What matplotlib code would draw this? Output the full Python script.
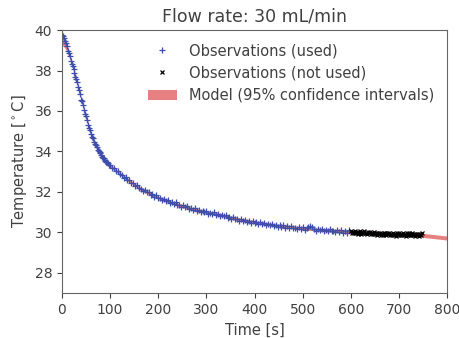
import matplotlib
matplotlib.use('agg')
import matplotlib.pyplot as plt
import numpy as np

# observations used for fitting (time [s], temperature [C])
t_used = list(range(0, 100, 2)) + list(range(100, 600, 4))
T_used = [39.78, 39.70, 39.62, 39.46, 39.35, 39.20, 38.98, 38.88, 38.70, 38.49,
          38.31, 38.22, 38.08, 37.87, 37.70, 37.60, 37.45, 37.20, 37.02, 36.84,
          36.55, 36.47, 36.28, 36.03, 35.85, 35.74, 35.56, 35.33, 35.17, 35.05,
          34.88, 34.73, 34.66, 34.49, 34.37, 34.32, 34.22, 34.08, 34.00, 33.98,
          33.93, 33.80, 33.74, 33.70, 33.66, 33.53, 33.47, 33.47, 33.43, 33.33,
          33.35, 33.16, 33.16, 33.02, 33.05, 32.87, 32.84, 32.69, 32.73, 32.60,
          32.60, 32.42, 32.43, 32.30, 32.34, 32.17, 32.16, 32.03, 32.09, 31.98,
          32.00, 31.84, 31.88, 31.77, 31.84, 31.69, 31.70, 31.58, 31.66, 31.56,
          31.60, 31.45, 31.50, 31.41, 31.49, 31.35, 31.36, 31.25, 31.33, 31.24,
          31.28, 31.14, 31.19, 31.10, 31.19, 31.07, 31.09, 30.99, 31.08, 31.00,
          31.05, 30.92, 30.98, 30.90, 30.99, 30.87, 30.89, 30.79, 30.88, 30.80,
          30.84, 30.71, 30.76, 30.68, 30.77, 30.65, 30.67, 30.57, 30.66, 30.58,
          30.63, 30.50, 30.56, 30.48, 30.58, 30.47, 30.49, 30.40, 30.49, 30.42,
          30.47, 30.35, 30.41, 30.34, 30.43, 30.32, 30.35, 30.25, 30.35, 30.28,
          30.34, 30.22, 30.29, 30.22, 30.32, 30.21, 30.24, 30.15, 30.25, 30.18,
          30.25, 30.13, 30.20, 30.25, 30.30, 30.25, 30.16, 30.07, 30.17, 30.10,
          30.17, 30.05, 30.12, 30.06, 30.16, 30.05, 30.09, 30.00, 30.10, 30.04,
          30.10, 29.99, 30.06, 29.99, 30.10]

# observations not used
t_notused = list(range(600, 750, 2))
T_notused = [30.08, 29.97, 30.04, 29.98, 30.09, 29.98, 30.02, 29.94, 30.04, 29.98,
             30.05, 29.93, 30.01, 29.95, 30.05, 29.95, 29.99, 29.90, 30.01, 29.95,
             30.01, 29.90, 29.98, 29.91, 30.02, 29.92, 29.95, 29.87, 29.98, 29.91,
             29.98, 29.87, 29.94, 29.88, 29.99, 29.91, 29.95, 29.87, 29.97, 29.91,
             29.98, 29.86, 29.94, 29.88, 29.98, 29.88, 29.92, 29.84, 29.95, 29.89,
             29.97, 29.86, 29.94, 29.88, 29.99, 29.88, 29.92, 29.84, 29.95, 29.89,
             29.96, 29.85, 29.92, 29.86, 29.97, 29.87, 29.91, 29.83, 29.94, 29.88,
             29.94, 29.83, 29.91, 29.85, 29.96]

# model and 95% CI half width
t_model = [0, 5, 10, 15, 20, 30, 40, 50, 60, 70, 80, 90, 100, 120, 140, 160, 180,
           200, 225, 250, 275, 300, 330, 360, 400, 450, 500, 550, 600, 650, 700,
           750, 800]
T_model = [39.55, 39.4, 39.15, 38.8, 38.4, 37.6, 36.65, 35.75, 34.9, 34.3, 33.9,
           33.55, 33.3, 32.9, 32.55, 32.2, 31.95, 31.72, 31.5, 31.3, 31.12, 31.0,
           30.86, 30.68, 30.5, 30.33, 30.2, 30.1, 30.03, 29.97, 29.92, 29.85, 29.72]
ci_model = [0.3, 0.25, 0.2, 0.15, 0.1, 0.08, 0.07, 0.07, 0.07, 0.07, 0.07, 0.07,
            0.07, 0.07, 0.07, 0.07, 0.07, 0.07, 0.07, 0.07, 0.07, 0.07, 0.07, 0.07,
            0.07, 0.07, 0.07, 0.08, 0.08, 0.09, 0.09, 0.1, 0.1]

text_col = '0.25'
plt.rcParams.update({
    "font.family": "DejaVu Sans",
    "font.size": 10.5,
    "xtick.labelsize": 10,
    "ytick.labelsize": 10,
    "text.color": text_col,
    "axes.labelcolor": text_col,
    "xtick.color": text_col,
    "ytick.color": text_col,
    "axes.edgecolor": '0.4',
})

fig = plt.figure(figsize=(4.59, 3.38), dpi=100)
ax = fig.add_axes([0.135, 0.133, 0.839, 0.778])

lo = np.array(T_model) - np.array(ci_model)
hi = np.array(T_model) + np.array(ci_model)
band = ax.fill_between(t_model, lo, hi, color='#e57373', alpha=0.9, lw=0,
                       label='Model (95% confidence intervals)')
l1, = ax.plot(t_used, T_used, '+', color='#3f4eaa', ms=5, mew=0.9,
              label='Observations (used)')
l2, = ax.plot(t_notused, T_notused, 'x', color='k', ms=3.5, mew=0.9,
              label='Observations (not used)')

ax.set_xlim(0, 800)
ax.set_ylim(27, 40)
ax.set_xticks(range(0, 801, 100))
ax.set_yticks(range(28, 41, 2))
ax.set_xlabel('Time [s]')
ax.set_ylabel('Temperature [$^\\circ$C]')
ax.set_title('Flow rate: 30 mL/min', fontsize=12.5)
ax.legend(handles=[l1, l2, band], loc='upper right', frameon=False,
          numpoints=1, fontsize=10.5)

plt.savefig('out.png', dpi=100)
